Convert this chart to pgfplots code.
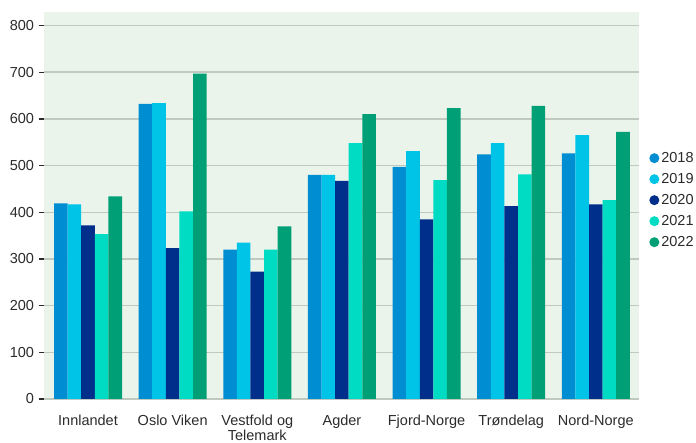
\documentclass[border=0pt]{standalone}
\usepackage{pgfplots}
\pgfplotsset{compat=1.18}
\usepackage{fontspec}
\setmainfont{Liberation Sans}
\definecolor{c18}{HTML}{008DD2}
\definecolor{c19}{HTML}{00C3E8}
\definecolor{c20}{HTML}{002E8B}
\definecolor{c21}{HTML}{00DBC3}
\definecolor{c22}{HTML}{009F76}
\definecolor{bg}{HTML}{EAF4EA}
\definecolor{gridc}{HTML}{C0C9C0}
\definecolor{txt}{HTML}{2B2B2B}
\begin{document}
\fontsize{14.5}{17}\selectfont
\begin{tikzpicture}
\begin{axis}[
  scale only axis,
  width=595pt, height=387pt,
  xmin=-0.52, xmax=6.51,
  ymin=0, ymax=829,
  ybar=0pt, bar width=13.6pt,
  axis background/.style={fill=bg},
  axis line style={draw=none},
  xtick={0,1,2,3,4,5,6},
  xticklabels={Innlandet,Oslo Viken,{Vestfold og\\Telemark},Agder,Fjord-Norge,Trøndelag,Nord-Norge},
  xticklabel style={align=center, anchor=north, yshift=-6pt, text=txt, font=\fontsize{14.5}{15}\selectfont},
  x tick style={draw=none},
  ytick={0,100,...,800},
  ytick pos=left,
  yticklabel style={text=txt, font=\fontsize{14.5}{17}\selectfont},
  /pgf/number format/assume math mode=true,
  tick align=outside,
  major tick length=5pt,
  y tick style={draw=txt, line width=1.3pt},
  ymajorgrids,
  grid style={draw=gridc, line width=1.5pt},
  legend style={draw=none, fill=none, at={(1.012,0.649)}, anchor=north west,
    font=\fontsize{14.5}{17}\selectfont, text=txt, row sep=4.7pt,
    /tikz/every even column/.append style={column sep=1pt}},
  legend image code/.code={\fill[#1] (0.2cm,0cm) circle (5pt);},
  legend cell align=left,
]
\addplot[fill=c18, draw=none] coordinates {(0,419) (1,632) (2,320) (3,480) (4,497) (5,524) (6,526)};
\addplot[fill=c19, draw=none] coordinates {(0,417) (1,634) (2,335) (3,480) (4,531) (5,548) (6,565)};
\addplot[fill=c20, draw=none] coordinates {(0,372) (1,323) (2,273) (3,467) (4,385) (5,413) (6,417)};
\addplot[fill=c21, draw=none] coordinates {(0,353) (1,402) (2,320) (3,548) (4,469) (5,481) (6,426)};
\addplot[fill=c22, draw=none] coordinates {(0,434) (1,697) (2,370) (3,610) (4,623) (5,628) (6,572)};
\legend{2018,2019,2020,2021,2022}
\coordinate (bl) at (rel axis cs:0,0);
\coordinate (tr) at (rel axis cs:1,1);
\end{axis}
\pgfresetboundingbox
\path ([shift={(-44pt,-44pt)}]bl) rectangle ([shift={(57pt,12pt)}]tr);
\end{tikzpicture}
\end{document}
